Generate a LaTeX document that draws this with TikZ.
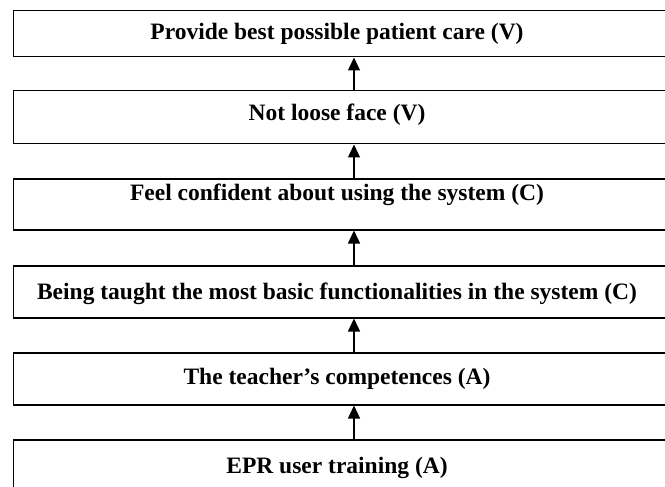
\documentclass[tikz,border=0pt]{standalone}
\usepackage{fontspec}
\setmainfont{Liberation Serif}
\usetikzlibrary{arrows.meta}
\begin{document}
\begin{tikzpicture}[x=1pt,y=1pt,
  stagebox/.style={draw, line width=1.5pt, anchor=north west, minimum width=660pt, inner sep=0pt},
  stagetext/.style={font=\bfseries\fontsize{23.5}{26}\selectfont},
  uparrow/.style={-{Triangle[width=12pt,length=13pt]}, line width=1.3pt}]
\useasboundingbox (0,0) rectangle (665,-487);
\fill[white] (0,0) rectangle (665,-487);
% stacked boxes, top to bottom
\node[stagebox, minimum height=46pt] (b1) at (12.5,-10) {};
\node[stagebox, minimum height=53pt] (b2) at (12.5,-90) {};
\node[stagebox, minimum height=51pt] (b3) at (12.5,-178) {};
\node[stagebox, minimum height=52pt] (b4) at (12.5,-265) {};
\node[stagebox, minimum height=52pt] (b5) at (12.5,-352) {};
\node[stagebox, minimum height=56pt] (b6) at (12.5,-439) {};
% box texts
\node[stagetext] (t1) at (337,-34)  {Provide best possible patient care (V)};
\node[stagetext] (t2) at (337,-115) {Not loose face (V)};
\node[stagetext] (t3) at (337,-195) {Feel confident about using the system (C)};
\node[stagetext] (t4) at (337,-294) {Being taught the most basic functionalities in the system (C)};
\node[stagetext] (t5) at (337,-379) {The teacher’s competences (A)};
\node[stagetext] (t6) at (337,-468) {EPR user training (A)};
% arrows between consecutive boxes
\foreach \lo/\hi in {b2/b1,b3/b2,b4/b3,b5/b4,b6/b5}
  \draw[uparrow] (\lo.north -| 354,0) -- (\hi.south -| 354,0);
\end{tikzpicture}
\end{document}
